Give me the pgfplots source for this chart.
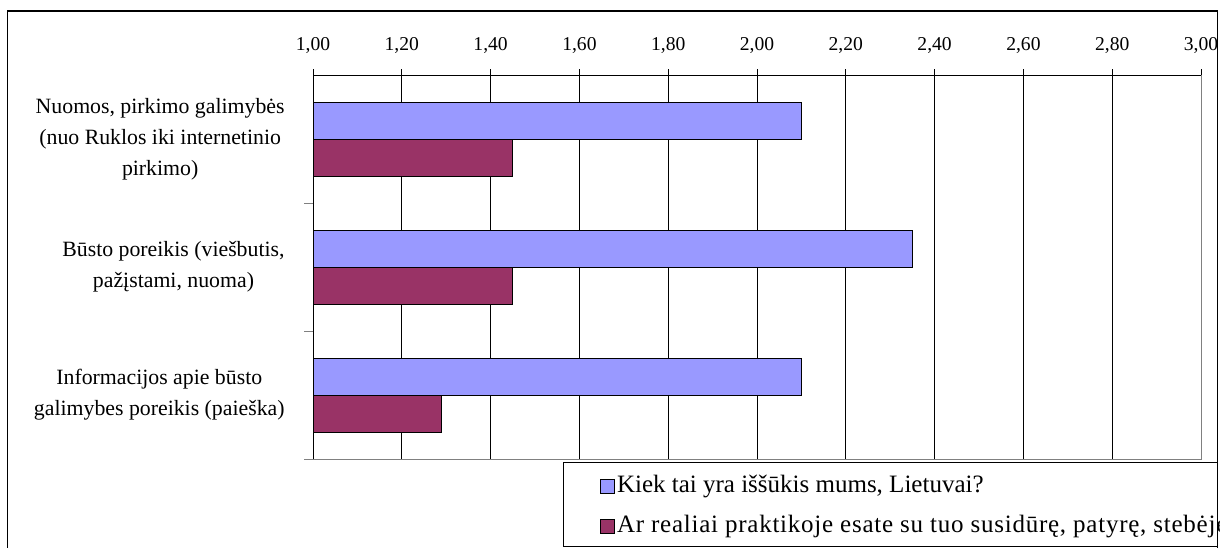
\documentclass[border=0pt]{standalone}
\usepackage{fontspec}
\setmainfont{Liberation Serif}
\usepackage{pgfplots}
\pgfplotsset{compat=1.18}
\definecolor{barblue}{HTML}{9999FF}
\definecolor{barred}{HTML}{993366}
\begin{document}
\begin{tikzpicture}
\useasboundingbox (0,0) rectangle (610pt,-273.5pt);
\clip (0,0) rectangle (609.5pt,-273.5pt);
\begin{scope}[x=0.5pt,y=-0.5pt]
  \draw[line width=0.75pt] (7.5,11) rectangle (1217.5,600);
\end{scope}
\begin{axis}[
    at={(156.5pt,-229.5pt)}, anchor=south west,
    scale only axis, width=444pt, height=192pt,
    xmin=1, xmax=3, ymin=-0.5, ymax=2.5, y dir=reverse,
    xtick={1,1.2,1.4,1.6,1.8,2,2.2,2.4,2.6,2.8,3},
    xtick pos=upper, xticklabel pos=upper,
    xticklabel style={font=\fontsize{9.8}{9.8}\selectfont, yshift=4pt,
        /pgf/number format/.cd, use comma, fixed, fixed zerofill, precision=2, assume math mode=true},
    xmajorgrids, grid style={black, line width=0.5pt},
    axis line style={gray, line width=0.5pt},
    tick align=outside, major tick length=3pt,
    x tick style={black, line width=0.5pt},
    ytick={0,1,2}, ytick pos=left,
    yticklabels={{Nuomos, pirkimo galimybės\\(nuo Ruklos iki internetinio\\pirkimo)},
                 {Būsto poreikis (viešbutis,\\pažįstami, nuoma)},
                 {Informacijos apie būsto\\galimybes poreikis (paieška)}},
    yticklabel style={align=center, font=\fontsize{10.9}{15.5}\selectfont, inner sep=0pt, xshift=-11pt},
    y tick style={draw=none},
    extra y ticks={0.5,1.5,2.5}, extra y tick labels={},
    extra y tick style={y tick style={draw=gray, line width=0.5pt}, major tick length=4.5pt},
    xbar, bar width=18.5pt,
    legend style={draw=none, fill=none, at={(axis description cs:0.316,-0.023)}, anchor=north west,
        font=\fontsize{12.5}{15}\selectfont, row sep=6pt,
        nodes={inner sep=1pt, text height=9pt, text depth=3pt}},
    legend cell align=left,
    legend image code/.code={\draw[#1, line width=0.5pt] (0pt,-3.5pt) rectangle (7pt,3.5pt);},
]
\addplot[fill=barblue, draw=black, line width=0.5pt, bar shift=9.25pt] coordinates {(2.10,0) (2.35,1) (2.10,2)};
\addlegendentry{Kiek tai yra iššūkis mums, Lietuvai?}
\addplot[fill=barred, draw=black, line width=0.5pt, bar shift=-9.25pt] coordinates {(1.45,0) (1.45,1) (1.29,2)};
\addlegendentry{\addfontfeature{LetterSpace=3}Ar realiai praktikoje esate su tuo susidūrę, patyrę, stebėję?}
\draw[black, line width=0.5pt] (axis description cs:0,0) -- (axis description cs:0,1) -- (axis description cs:1,1);
\end{axis}
\begin{scope}[x=0.5pt,y=-0.5pt]
  \fill[white] (1218.5,470) rectangle (1240,546);
  \draw[line width=0.5pt] (563,462) -- (1218,462);
  \draw[line width=0.5pt] (563,546) -- (563,462);
  \draw[line width=0.5pt] (563,546) -- (1218,546);
  \draw[line width=0.75pt] (1217.5,440) -- (1217.5,547);
\end{scope}
\end{tikzpicture}
\end{document}
